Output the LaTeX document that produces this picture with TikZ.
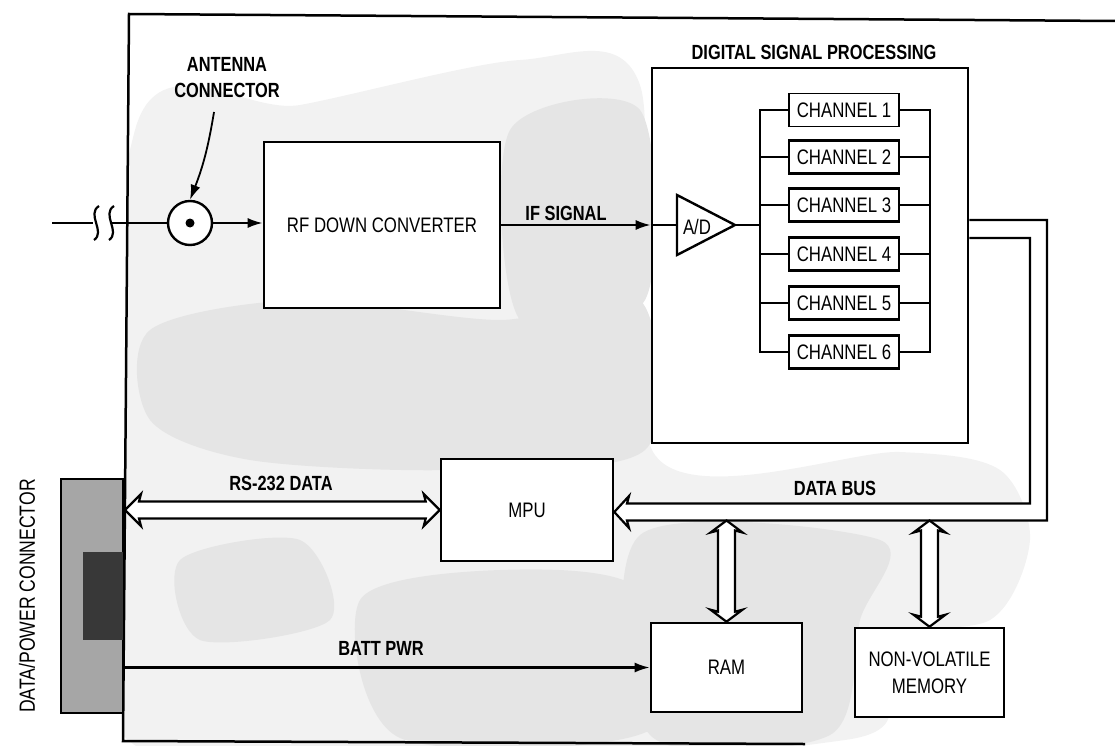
\documentclass[tikz,border=0pt]{standalone}
\usepackage{fontspec}
\setmainfont{Liberation Sans}[FakeStretch=0.8]
\usetikzlibrary{calc,arrows.meta}
\newcommand\myHbus[2]{\path[busfill] let \p1=(#1), \p2=(#2) in
  (\x1,\y1) -- (\x1+16,\y1+16) -- (\x1+14,\y1+8.5) -- (\x2-14,\y1+8.5) -- (\x2-16,\y1+16) -- (\x2,\y1)
  -- (\x2-16,\y1-16) -- (\x2-14,\y1-8.5) -- (\x1+14,\y1-8.5) -- (\x1+16,\y1-16) -- cycle;}
\newcommand\myVbus[2]{\path[busfill] let \p1=(#1), \p2=(#2) in
  (\x1,\y1) -- (\x1+16,\y1-12) -- (\x1+8.5,\y1-10) -- (\x1+8.5,\y2+10) -- (\x1+16,\y2+12) -- (\x1,\y2)
  -- (\x1-16,\y2+12) -- (\x1-8.5,\y2+10) -- (\x1-8.5,\y1-10) -- (\x1-16,\y1-12) -- cycle;}
\begin{document}
\begin{tikzpicture}[x=1pt,y=-1pt,
  box/.style={draw,line width=2.6pt,fill=white,inner sep=0pt,align=center,font=\fontsize{21}{27}\selectfont},
  chbox/.style={box,minimum width=110,minimum height=33},
  lbl/.style={font=\bfseries\fontsize{20.5}{26}\selectfont,inner sep=0pt,align=center},
  wire/.style={line width=2.2pt},
  sig/.style={wire,-{Latex[length=15pt,width=10pt]}},
  busfill/.style={draw,line width=2.2pt,fill=white,line join=miter},
  shadeA/.style={fill=black!5},
  shadeB/.style={fill=black!10},
]
\useasboundingbox (0,0) rectangle (1115,746);
% halftone shading of the board
\begin{scope}
\clip (129,14) -- (1115,21) -- (1115,746) -- (123,746) -- cycle;
\fill[shadeA] plot[smooth cycle] coordinates {(135,130) (300,105) (520,60) (640,85) (655,455) (900,452) (1000,470) (1030,540) (990,620) (860,640) (845,740) (128,740)};
\fill[shadeB] plot[smooth cycle] coordinates {(150,330) (300,300) (500,320) (640,300) (645,450) (450,470) (250,460) (150,420)};
\fill[shadeB] plot[smooth cycle] coordinates {(360,600) (500,570) (640,590) (650,730) (400,738)};
\fill[shadeB] plot[smooth cycle] coordinates {(640,535) (880,540) (860,620) (830,735) (650,735)};
\fill[shadeB] plot[smooth cycle] coordinates {(510,130) (640,110) (645,300) (520,320)};
\fill[shadeB] plot[smooth cycle] coordinates {(180,560) (300,540) (330,620) (200,640)};
\end{scope}
% board outline
\draw[line width=2.5pt] (1115,21) -- (129,14) -- (123,741) -- (805,744);
% data/power connector
\node[draw,line width=2pt,fill=black!35,minimum width=62,minimum height=234,inner sep=0pt] (dpc) at (92,596) {};
\node[fill=black!78,minimum width=40,minimum height=88,inner sep=0pt] (dpcin) at (103,596) {};
\node[rotate=90,font=\fontsize{22}{24}\selectfont,inner sep=0pt] (dpclbl) at (27,596) {DATA/POWER CONNECTOR};
% blocks
\node[box,minimum width=236,minimum height=166] (rf) at (382,225) {RF DOWN CONVERTER};
\node[box,minimum width=316,minimum height=375] (dsp) at (810,255.5) {};
\node[lbl] (dsplbl) at (814,52) {DIGITAL SIGNAL PROCESSING};
\node[box,minimum width=172,minimum height=102] (mpu) at (527,510) {MPU};
\node[box,minimum width=151,minimum height=89] (ram) at (726.5,667.5) {RAM};
\node[box,minimum width=149,minimum height=89] (nvm) at (929.5,672.5) {NON-VOLATILE\\MEMORY};
% channels
\node[chbox,line width=1.4pt] (ch1) at (844,110) {CHANNEL 1};
\foreach \i/\yy in {2/157,3/205,4/254,5/303,6/352}
  \node[chbox] (ch\i) at (844,\yy) {CHANNEL \i};
\draw[wire] (ch1.west) -- (ch1.west -| 760,0) -- (ch6.west -| 760,0) -- (ch6.west);
\draw[wire] (ch1.east) -- (ch1.east -| 930,0) -- (ch6.east -| 930,0) -- (ch6.east);
\foreach \i in {2,3,4,5} {
  \draw[wire] (ch\i.west -| 760,0) -- (ch\i.west);
  \draw[wire] (ch\i.east) -- (ch\i.east -| 930,0);
}
% A/D converter
\coordinate (adw) at (677,225);
\coordinate (ade) at (735,225);
\draw[line width=2.4pt,line join=miter,fill=white] (677,195) -- (ade) -- (677,255) -- cycle;
\node[font=\fontsize{21}{23}\selectfont,inner sep=0pt] (adt) at (697,227) {A/D};
\draw[wire] (dsp.west |- adw) -- (adw);
\draw[wire] (ade) -- (ade -| 760,0);
% antenna
\node[draw,circle,line width=2.4pt,fill=white,minimum size=44,inner sep=0pt] (ant) at (190,223) {};
\fill (ant.center) circle (4.5);
\node[lbl] (antlbl) at (227,78) {ANTENNA\\CONNECTOR};
\coordinate (antptr) at (214,112);
\draw[sig,line width=1.8pt] (antptr) to[bend left=6] (ant.north);
\coordinate (antsrc) at (52,223);
\draw[wire] (antsrc) -- (93,223);
\draw[wire] (99,206) .. controls (86,214) and (106,232) .. (94,240);
\draw[wire] (114,206) .. controls (101,214) and (121,232) .. (109,240);
\draw[wire] (112,223) -- (ant.west);
\draw[sig] (ant.east) -- (ant.east -| rf.west);
% IF signal
\draw[sig] (rf.east |- adw) -- (dsp.west |- adw);
\node[lbl] (iflbl) at (566,213) {IF SIGNAL};
% RS-232 data bus
\coordinate (rssrc) at (mpu.west -| 125,0);
\myHbus{rssrc}{mpu.west}
\node[lbl] (rslbl) at (281,483) {RS-232 DATA};
% data bus from DSP to MPU
\coordinate (dbtip) at ($(mpu.east)+(0,2)$);
\fill[white] (dsp.east |- 0,220) -- (1047,220) -- (1047,520.5) -- (629,520.5) -- (629,528) -- (dbtip)
  -- (629,496) -- (627,503.5) -- (1030,503.5) -- (1030,238) -- (dsp.east |- 0,238) -- cycle;
\draw[line width=2.2pt,line join=miter] (dsp.east |- 0,220) -- (1047,220) -- (1047,520.5) -- (627,520.5)
  -- (629,528) -- (dbtip) -- (629,496) -- (627,503.5) -- (1030,503.5) -- (1030,238) -- (dsp.east |- 0,238);
\node[lbl] (dblbl) at (835,488) {DATA BUS};
% memory buses
\myVbus{ram.north |- 0,520.5}{ram.north}
\myVbus{nvm.north |- 0,520.5}{nvm.north}
% battery power
\coordinate (battsrc) at (ram.west -| 123,0);
\draw[sig] (battsrc) -- (ram.west);
\node[lbl] (battlbl) at (381,648) {BATT PWR};
\end{tikzpicture}
\end{document}
